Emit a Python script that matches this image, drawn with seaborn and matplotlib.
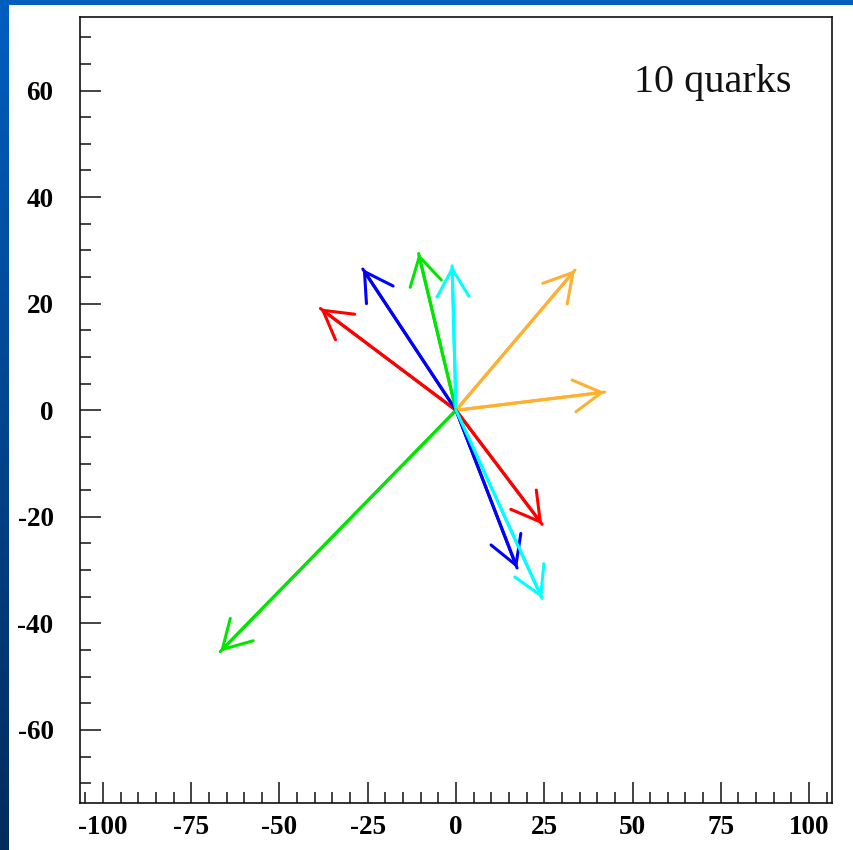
import numpy as np
import pandas as pd
import matplotlib
matplotlib.use("Agg")
import matplotlib.pyplot as plt
import seaborn as sns
from matplotlib.ticker import MultipleLocator

# Quark momentum vectors (tips, origin at 0,0)
quark_px = [-38.4, -26.4, -10.6, -1.1, 33.7, 42.1, -66.8, 24.4, 17.3, 24.4]
quark_py = [19.1, 26.5, 29.4, 27.1, 26.3, 3.4, -45.3, -21.4, -29.6, -35.3]
quark_colors = ["#ff0000", "#0000ff", "#00e600", "#00ffff", "#ffb030",
                "#ffb030", "#00e600", "#ff0000", "#0000ff", "#00ffff"]
x_ticks = [-100, -75, -50, -25, 0, 25, 50, 75, 100]
y_ticks = [-60, -40, -20, 0, 20, 40, 60]
label_text = "10 quarks"

sns.set_style("ticks")
plt.rcParams["font.family"] = ["Liberation Serif", "DejaVu Serif"]
plt.rcParams["axes.unicode_minus"] = False

W, H = 854, 850
fig = plt.figure(figsize=(W / 100, H / 100), dpi=100)

# slide background: blue strip on left (gradient) and top
bg = np.ones((H, W, 3))
top_c = np.array([0.0, 0.37, 0.75])
bot_c = np.array([0.0, 0.17, 0.36])
t = np.linspace(0, 1, H)[:, None]
grad = top_c[None, :] * (1 - t) + bot_c[None, :] * t
bg[:, :9, :] = grad[:, None, :]
bg[:5, :, :] = top_c
fig.figimage(bg, xo=0, yo=0, origin="upper", zorder=-10)

ax = fig.add_axes([80 / W, 1 - 803 / H, (832 - 80) / W, (803 - 17) / H])
ax.set_zorder(5)
ax.set_facecolor("white")

rows = []
for i, (px, py) in enumerate(zip(quark_px, quark_py)):
    rows.append({"q": i, "x": 0.0, "y": 0.0})
    rows.append({"q": i, "x": px, "y": py})
df = pd.DataFrame(rows)
sns.lineplot(data=df, x="x", y="y", hue="q", units="q", estimator=None,
             sort=False, palette=quark_colors, linewidth=2.2, legend=False, ax=ax)

for px, py, c in zip(quark_px, quark_py, quark_colors):
    ax.annotate("", xy=(px, py), xytext=(0, 0),
                arrowprops=dict(arrowstyle="->,head_length=2.0,head_width=1.15",
                                color=c, lw=2.2, shrinkA=0, shrinkB=0,
                                mutation_scale=10))

ax.set_xlim(-106.5, 106.5)
ax.set_ylim(-73.7, 73.8)
ax.set_xticks(x_ticks)
ax.set_yticks(y_ticks)
ax.xaxis.set_minor_locator(MultipleLocator(5))
ax.yaxis.set_minor_locator(MultipleLocator(5))
ax.tick_params(which="both", direction="in", top=False, right=False, width=1.1,
               color="#111111", labelcolor="black")
ax.tick_params(which="major", length=15)
ax.tick_params(which="minor", length=7.7)
ax.tick_params(axis="y", which="major", pad=19)
ax.tick_params(axis="x", which="major", pad=9)
for lab in ax.get_xticklabels() + ax.get_yticklabels():
    lab.set_fontweight("bold")
    lab.set_fontsize(19.5)
ax.set_xlabel("")
ax.set_ylabel("")
for s in ax.spines.values():
    s.set_linewidth(1.2)
    s.set_color("#111111")
    s.set_visible(True)

ax.text(50.5, 59.8, label_text, fontsize=29, ha="left", va="baseline", color="#111111")

fig.savefig("out.png", dpi=100)
